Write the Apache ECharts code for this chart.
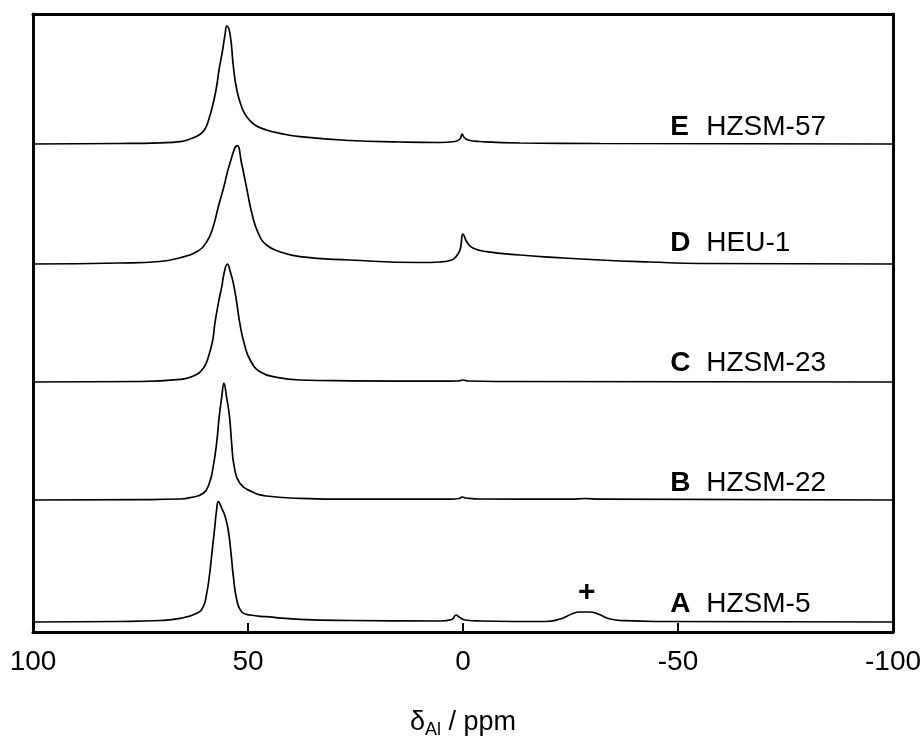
<!DOCTYPE html>
<html>
<head>
<meta charset="utf-8">
<script src="https://cdn.jsdelivr.net/npm/echarts@6/dist/echarts.min.js"></script>
<style>
html,body{margin:0;padding:0;background:#fff;}
#chart{width:923px;height:738px;}
</style>
</head>
<body>
<div id="chart"></div>
<script>
// x tick labels (ppm), axis runs from 100 (left) to -100 (right)
const xTicks = [100, 50, 0, -50, -100];

// spectra: [chemical shift (ppm), intensity above own baseline]
const specA = [[100,0],[79.8,0.5],[70.5,1.5],[65.8,3.7],[61.9,8.7],[60.4,15.3],[59.6,28.7],[59.0,45.3],[58.4,68.7],[57.8,92],[57.3,112],[56.9,120.3],[56.1,113.7],[55.3,105.3],[54.6,92],[53.95,68.7],[53.4,45.3],[52.6,22],[51.5,10.3],[49.5,7],[45.7,5.3],[37.9,2.7],[26.3,1.5],[5.3,1],[2.6,2.5],[1.6,7],[0.9,5],[-0.5,2],[-4,1],[-19.1,0.5],[-22.6,3],[-25.3,8],[-27.2,10],[-29.5,10],[-31.4,8],[-34.2,3],[-37.7,1.3],[-45.8,0.5],[-100,0]];
const specB = [[100,0],[75,0.4],[65.8,1],[63.5,2.3],[60.4,6.7],[59.0,16.7],[58.1,33.3],[57.3,56.7],[56.7,83.3],[56.1,103.3],[55.6,116.7],[55.0,103.3],[54.3,83.3],[53.8,56.7],[53.2,33.3],[51.9,16.7],[49.1,8.3],[45.7,4],[37.9,1.7],[26.3,0.8],[3,0.8],[0.9,1.5],[0.2,3],[-0.7,2],[-4,1],[-25,0.8],[-28.4,1.5],[-31.9,0.8],[-100,0]];
const specC = [[100,0],[75,0.5],[65.8,2.7],[62.7,6],[60.4,13.7],[59.2,25.3],[58.2,42],[57.7,58.7],[56.9,78.7],[56.1,95.3],[55.5,110],[54.8,118],[54.1,110],[53.4,98.7],[52.6,78.7],[51.9,58.7],[50.9,38.7],[49.5,22],[47.2,10.3],[43.3,4.7],[37.9,2],[26.3,1.2],[5.3,0.8],[1.2,1],[0,2],[-1.2,1],[-8.6,0.5],[-100,0]];
const specD = [[100,0],[79.8,1],[70.5,2.5],[65.8,6.3],[61.9,12.3],[59.6,22.3],[58.1,37.3],[56.9,57.3],[55.7,75.7],[54.2,100.7],[52.5,118.3],[51.5,100.7],[50.3,75.7],[49.1,50.7],[47.6,30.7],[45.7,19],[42.6,12.3],[37.9,7.3],[26.3,4],[10,1.5],[5.3,2],[3,3.5],[1.9,6],[0.7,14],[0,30],[-0.9,22],[-2.3,16],[-5.5,12.3],[-13.3,9],[-20.9,6.7],[-31.9,4],[-43.5,2],[-55.1,0.5],[-100,0]];
const specE = [[100,0],[79.8,0.5],[70.5,1.2],[65.8,2.3],[63.5,5],[61.2,9.5],[60.0,15],[59.2,23.5],[58.3,37],[57.4,55],[56.7,75],[55.9,94],[55.3,110.7],[54.95,118],[54.2,110.7],[53.4,77.3],[52.6,54],[51.5,37.3],[50.3,27.3],[48.4,19],[45.7,14],[42.6,10.7],[37.9,7.3],[26.3,3.5],[14.7,2],[5.3,1.5],[1.9,2.5],[0.7,5],[0.2,10],[-0.2,7],[-1.2,4],[-4,2.5],[-13.3,1],[-31.9,0.5],[-100,0]];

const spectra = [specA, specB, specC, specD, specE];
const baselines = [10, 132, 250, 368, 488];   // vertical stacking offsets
const letters = ['A', 'B', 'C', 'D', 'E'];
const names = ['HZSM-5', 'HZSM-22', 'HZSM-23', 'HEU-1', 'HZSM-57'];
const labelPpm = -48.2;
const labelLift = [18, 17, 19, 21, 17];
const plusMark = [-28.8, 39];   // "+" annotation above impurity signal in A

const chart = echarts.init(document.getElementById('chart'), null, {renderer: 'canvas'});
const FONT = 'Liberation Sans, Arial, sans-serif';

const series = spectra.map((s, i) => ({
  type: 'line',
  data: s.map(p => [p[0], p[1] + baselines[i]]),
  showSymbol: false,
  smooth: 0.5,
  lineStyle: {color: '#000', width: 1.7},
  silent: true,
  animation: false,
  z: 3
}));

const frameAxis = {axisTick: {show: false}, axisLabel: {show: false}, splitLine: {show: false}};

chart.setOption({
  animation: false,
  grid: {left: 33, right: 30, top: 14, bottom: 106, outerBoundsMode: 'none', containLabel: false},
  xAxis: [{
    type: 'value', min: -100, max: 100, interval: 50, inverse: true, position: 'bottom',
    axisLine: {onZero: false, lineStyle: {color: '#000', width: 3}},
    axisTick: {inside: true, length: 9, lineStyle: {color: '#000', width: 2}},
    splitLine: {show: false},
    axisLabel: {color: '#000', fontSize: 28, fontFamily: FONT, margin: 16,
      formatter: v => xTicks.includes(v) ? String(v) : ''},
    name: '{d|δ}{s|Al}{d| / ppm}',
    nameLocation: 'middle', nameGap: 75,
    nameTextStyle: {rich: {
      d: {fontSize: 27, fontFamily: FONT, color: '#000'},
      s: {fontSize: 18, fontFamily: FONT, color: '#000', verticalAlign: 'bottom', padding: [14, 0, 0, 0]}
    }}
  }, Object.assign({
    type: 'value', min: -100, max: 100, inverse: true, position: 'top',
    axisLine: {onZero: false, lineStyle: {color: '#000', width: 3}}
  }, frameAxis)],
  yAxis: [Object.assign({
    type: 'value', min: 0, max: 618, position: 'left',
    axisLine: {show: true, onZero: false, lineStyle: {color: '#000', width: 3}}
  }, frameAxis), Object.assign({
    type: 'value', min: 0, max: 618, position: 'right',
    axisLine: {show: true, onZero: false, lineStyle: {color: '#000', width: 3}}
  }, frameAxis)],
  series: series
});

const graphics = letters.map((l, i) => {
  const p = chart.convertToPixel({gridIndex: 0}, [labelPpm, baselines[i] + labelLift[i]]);
  return {
    type: 'text', x: p[0], y: p[1], z: 10,
    style: {
      text: '{b|' + l + '}{n|' + names[i] + '}',
      verticalAlign: 'middle', align: 'left',
      rich: {
        b: {fontSize: 28, fontWeight: 'bold', fontFamily: FONT, fill: '#000', width: 36},
        n: {fontSize: 28, fontFamily: FONT, fill: '#000'}
      }
    }
  };
});
const pp = chart.convertToPixel({gridIndex: 0}, plusMark);
graphics.push({
  type: 'text', x: pp[0], y: pp[1], z: 10,
  style: {text: '+', fontSize: 30, fontWeight: 'bold', fontFamily: FONT, fill: '#000', align: 'center', verticalAlign: 'middle'}
});
chart.setOption({graphic: graphics});
</script>
</body>
</html>
